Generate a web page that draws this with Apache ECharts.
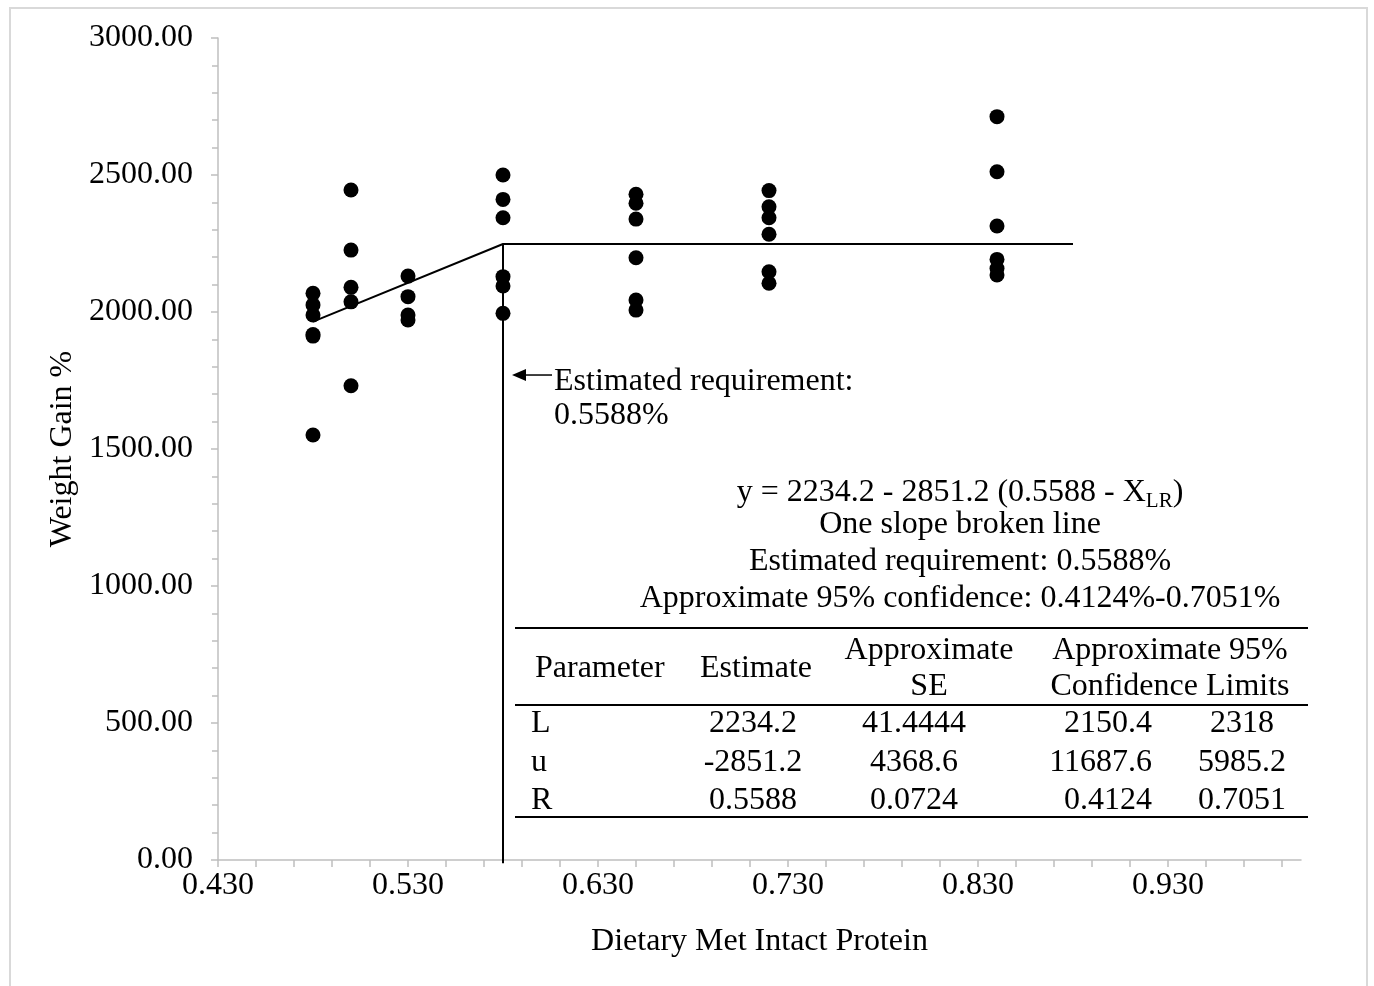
<!DOCTYPE html>
<html>
<head>
<meta charset="utf-8">
<script src="https://cdn.jsdelivr.net/npm/echarts@6/dist/echarts.min.js"></script>
<style>
html,body{margin:0;padding:0;background:#fff;}
#chart{width:1374px;height:986px;}
</style>
</head>
<body>
<div id="chart"></div>
<script>
// ---- data ----
const xLevels = [0.48, 0.50, 0.53, 0.58, 0.65, 0.72, 0.84];
const gain048 = [2068, 2026, 1989, 1918, 1912, 1551];
const gain050 = [2445, 2226, 2090, 2037, 1731];
const gain053 = [2131, 2056, 1989, 1971];
const gain058 = [2500, 2411, 2344, 2129, 2095, 1995];
const gain065 = [2430, 2397, 2339, 2198, 2044, 2007];
const gain072 = [2443, 2384, 2344, 2284, 2147, 2105];
const gain084 = [2713, 2512, 2314, 2192, 2159, 2135];
const gainGroups = [gain048, gain050, gain053, gain058, gain065, gain072, gain084];

const fitX = [0.48, 0.58, 0.88];
const fitY = [1965, 2248, 2248];
const reqX = [0.58, 0.58];
const reqY = [2248, -12];
const arrowY = 1770;

const xTickValues = [0.43,0.45,0.47,0.49,0.51,0.53,0.55,0.57,0.59,0.61,0.63,0.65,0.67,0.69,0.71,0.73,0.75,0.77,0.79,0.81,0.83,0.85,0.87,0.89,0.91,0.93,0.95,0.97,0.99];
const xLabelValues = [0.43, 0.53, 0.63, 0.73, 0.83, 0.93];

const eqMain = 'y = 2234.2 - 2851.2 (0.5588 - X';
const eqSub = 'LR';
const eqEnd = ')';
const infoLines = ['One slope broken line', 'Estimated requirement: 0.5588%', 'Approximate 95% confidence: 0.4124%-0.7051%'];
const annotLines = ['Estimated requirement:', '0.5588%'];

const tableHeader = [['Parameter'], ['Estimate'], ['Approximate', 'SE'], ['Approximate 95%', 'Confidence Limits']];
const paramNames = ['L', 'u', 'R'];
const estimates = ['2234.2', '-2851.2', '0.5588'];
const seValues = ['41.4444', '4368.6', '0.0724'];
const lowerCL = ['2150.4', '11687.6', '0.4124'];
const upperCL = ['2318', '5985.2', '0.7051'];

// ---- build ----
const FONT_FAMILY = '"Liberation Serif", "Times New Roman", serif';
const FS = 32;
const AXIS_GRAY = '#bfbfbf';

const scatterData = [];
gainGroups.forEach((g, i) => g.forEach(v => scatterData.push([xLevels[i], v])));
const fitData = fitX.map((x, i) => [x, fitY[i]]);
const reqData = reqX.map((x, i) => [x, reqY[i]]);

const chart = echarts.init(document.getElementById('chart'), null, {renderer: 'canvas'});

const option = {
  animation: false,
  backgroundColor: '#fff',
  grid: {left: 218, right: 73, top: 38, bottom: 126},
  xAxis: {
    type: 'value', min: 0.43, max: 1.0,
    name: 'Dietary Met Intact Protein', nameLocation: 'middle', nameGap: 66,
    nameTextStyle: {fontFamily: FONT_FAMILY, fontSize: FS, color: '#000'},
    axisLine: {show: true, onZero: false, lineStyle: {color: AXIS_GRAY, width: 1.5}},
    axisTick: {show: true, inside: false, length: 7, customValues: xTickValues, lineStyle: {color: AXIS_GRAY, width: 1.5}},
    axisLabel: {show: true, customValues: xLabelValues, margin: 10, fontFamily: FONT_FAMILY, fontSize: FS, color: '#000',
      formatter: v => Number(v).toFixed(3)},
    splitLine: {show: false}
  },
  yAxis: {
    type: 'value', min: 0, max: 3000, interval: 500,
    name: 'Weight Gain %', nameLocation: 'middle', nameGap: 136, nameRotate: 90,
    nameTextStyle: {fontFamily: FONT_FAMILY, fontSize: FS, color: '#000'},
    axisLine: {show: true, lineStyle: {color: AXIS_GRAY, width: 1.5}},
    axisTick: {show: true, inside: false, length: 7, lineStyle: {color: AXIS_GRAY, width: 1.5}},
    minorTick: {show: true, splitNumber: 5, length: 6, lineStyle: {color: AXIS_GRAY, width: 1.5}},
    axisLabel: {margin: 25, fontFamily: FONT_FAMILY, fontSize: FS, color: '#000', padding: [4, 0, 0, 0],
      formatter: v => Number(v).toFixed(2)},
    splitLine: {show: false}
  },
  series: [
    {type: 'line', data: fitData, symbol: 'none', lineStyle: {color: '#000', width: 2}, z: 3},
    {type: 'line', data: reqData, symbol: 'none', clip: false, lineStyle: {color: '#000', width: 2}, z: 3},
    {type: 'scatter', data: scatterData, symbol: 'circle', symbolSize: 15, itemStyle: {color: '#000', opacity: 1}, z: 4}
  ]
};
chart.setOption(option);

// ---- annotations ----
const font = FS + 'px ' + FONT_FAMILY;
const subFont = '21px ' + FONT_FAMILY;
const mctx = document.createElement('canvas').getContext('2d');
function tw(t, f) { mctx.font = f; return mctx.measureText(t).width; }

const g = [];
// outer chart-area border
g.push({type: 'rect', silent: true, z: -1, shape: {x: 10, y: 8, width: 1357, height: 990},
  style: {fill: 'none', stroke: '#d9d9d9', lineWidth: 2}});

// arrow pointing at requirement line
const pTip = chart.convertToPixel({gridIndex: 0}, [reqX[0], arrowY]);
const tipX = pTip[0] + 9, ay = pTip[1];
g.push({type: 'line', shape: {x1: tipX + 8, y1: ay, x2: tipX + 40, y2: ay}, style: {stroke: '#000', lineWidth: 1.5}});
g.push({type: 'polygon', shape: {points: [[tipX, ay], [tipX + 14, ay - 6], [tipX + 14, ay + 6]]}, style: {fill: '#000'}});
annotLines.forEach((t, i) => g.push({type: 'text', style: {text: t, x: tipX + 42, y: ay + 7 + i * 34, font: font, fill: '#000', textAlign: 'left', textVerticalAlign: 'middle'}}));

// equation block
const cx = 960;
const w1 = tw(eqMain, font), w2 = tw(eqSub, subFont), w3 = tw(eqEnd, font);
const sx = cx - (w1 + w2 + w3) / 2;
const eqY = 493;
g.push({type: 'text', style: {text: eqMain, x: sx, y: eqY, font: font, fill: '#000', textAlign: 'left', textVerticalAlign: 'middle'}});
g.push({type: 'text', style: {text: eqSub, x: sx + w1, y: eqY + 8, font: subFont, fill: '#000', textAlign: 'left', textVerticalAlign: 'middle'}});
g.push({type: 'text', style: {text: eqEnd, x: sx + w1 + w2, y: eqY, font: font, fill: '#000', textAlign: 'left', textVerticalAlign: 'middle'}});
const infoYs = [525, 562, 599];
infoLines.forEach((t, i) => g.push({type: 'text', style: {text: t, x: cx, y: infoYs[i], font: font, fill: '#000', textAlign: 'center', textVerticalAlign: 'middle'}}));

// table
const tL = 515, tR = 1308;
[628, 705, 817].forEach(y => g.push({type: 'line', shape: {x1: tL, y1: y, x2: tR, y2: y}, style: {stroke: '#000', lineWidth: 2}}));
function txt(t, x, y, align) {
  g.push({type: 'text', style: {text: t, x: x, y: y, font: font, fill: '#000', textAlign: align, textVerticalAlign: 'middle'}});
}
// header
txt(tableHeader[0][0], 535, 669, 'left');
txt(tableHeader[1][0], 756, 669, 'center');
txt(tableHeader[2][0], 929, 651, 'center');
txt(tableHeader[2][1], 929, 687, 'center');
txt(tableHeader[3][0], 1170, 651, 'center');
txt(tableHeader[3][1], 1170, 687, 'center');
const rowYs = [724, 763, 801];
paramNames.forEach((p, i) => {
  txt(p, 531, rowYs[i], 'left');
  txt(estimates[i], 753, rowYs[i], 'center');
  txt(seValues[i], 914, rowYs[i], 'center');
  txt(lowerCL[i], 1152, rowYs[i], 'right');
  txt(upperCL[i], 1242, rowYs[i], 'center');
});

chart.setOption({graphic: {elements: g}});
</script>
</body>
</html>
